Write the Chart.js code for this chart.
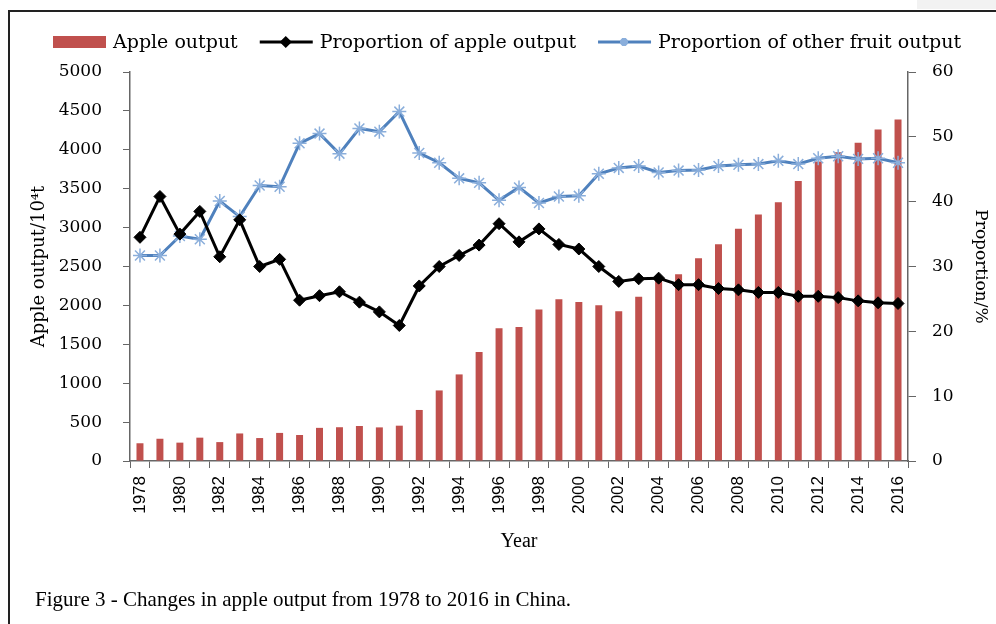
<!DOCTYPE html>
<html>
<head>
<meta charset="utf-8">
<script src="https://cdn.jsdelivr.net/npm/chart.js@4.4.0/dist/chart.umd.min.js"></script>
<style>
  body { margin: 0; background: #fff; }
  #wrap { position: relative; width: 996px; height: 624px; overflow: hidden; }
  #frame { position: absolute; left: 8px; top: 10px; width: 1100px; height: 700px;
           border-left: 2px solid #222; border-top: 2px solid #222; }
  #corner { position: absolute; left: 917px; top: 0; width: 79px; height: 9px; background: #f2f2f2; }
  #c { position: absolute; left: 0; top: 0; }
  #caption { position: absolute; left: 35px; top: 587px; font: 21px "Liberation Serif", serif; color: #000; }
</style>
</head>
<body>
<div id="wrap">
  <div id="corner"></div>
  <div id="frame"></div>
  <canvas id="c" width="996" height="624"></canvas>
  <div id="caption">Figure 3 - Changes in apple output from 1978 to 2016 in China.</div>
</div>
<script>
var years = ["1978","1979","1980","1981","1982","1983","1984","1985","1986","1987",
             "1988","1989","1990","1991","1992","1993","1994","1995","1996","1997",
             "1998","1999","2000","2001","2002","2003","2004","2005","2006","2007",
             "2008","2009","2010","2011","2012","2013","2014","2015","2016"];

// apple output, 10^4 t
var appleOutput = [228, 286, 236, 300, 243, 354, 295, 361, 334, 426,
                   434, 450, 432, 454, 656, 907, 1113, 1401, 1705, 1722,
                   1948, 2080, 2043, 2002, 1924, 2110, 2368, 2401, 2606, 2786,
                   2985, 3168, 3326, 3599, 3849, 3968, 4092, 4261, 4388];

// proportions, %
var appleShare = [34.5, 40.8, 35.0, 38.5, 31.5, 37.2, 30.0, 31.1, 24.8, 25.5,
                  26.1, 24.5, 23.0, 20.9, 27.0, 30.0, 31.7, 33.3, 36.6, 33.8,
                  35.8, 33.4, 32.7, 30.0, 27.7, 28.1, 28.2, 27.2, 27.2, 26.6,
                  26.4, 26.0, 26.0, 25.4, 25.4, 25.2, 24.7, 24.4, 24.3];

var otherShare = [31.7, 31.7, 34.7, 34.2, 40.1, 37.7, 42.5, 42.3, 49.0, 50.5,
                  47.4, 51.3, 50.8, 53.9, 47.5, 46.0, 43.6, 42.9, 40.2, 42.2,
                  39.8, 40.8, 40.9, 44.3, 45.2, 45.5, 44.5, 44.8, 44.9, 45.5,
                  45.7, 45.8, 46.3, 45.8, 46.7, 47.0, 46.6, 46.7, 46.0];

var seriesNames = ["Apple output", "Proportion of apple output", "Proportion of other fruit output"];

var RED = "#C0504D", BLUE = "#4F81BD", STAR = "#8AAEDB", AXIS = "#666";
var SERIF = '"DejaVu Serif", serif';

// legend drawn like the spreadsheet one: line + marker samples
var sheetLegend = {
  id: 'sheetLegend',
  afterDraw: function(chart) {
    var ctx = chart.ctx;
    var y = 42, x = 53;
    ctx.save();
    ctx.font = '19px ' + SERIF;
    ctx.textBaseline = 'middle';
    chart.data.datasets.forEach(function(ds) {
      if (ds.type === 'bar') {
        ctx.fillStyle = RED;
        ctx.fillRect(x, y - 6, 53, 12);
      } else {
        ctx.strokeStyle = ds.borderColor;
        ctx.lineWidth = 3;
        ctx.beginPath();
        ctx.moveTo(x, y);
        ctx.lineTo(x + 53, y);
        ctx.stroke();
        ctx.fillStyle = ds.pointBackgroundColor;
        ctx.strokeStyle = ds.pointBorderColor;
        Chart.helpers.drawPoint(ctx, {
          pointStyle: ds.pointStyle, radius: 4, borderWidth: 1.5, rotation: 0
        }, x + 26, y);
      }
      x += 53 + 7;
      ctx.fillStyle = '#000';
      ctx.fillText(ds.label, x, y + 1);
      x += ctx.measureText(ds.label).width + 22;
    });
    ctx.restore();
  }
};

Chart.defaults.font.family = SERIF;
Chart.defaults.color = '#000';

new Chart(document.getElementById('c'), {
  data: {
    labels: years,
    datasets: [
      {
        type: 'bar', label: seriesNames[0], data: appleOutput, yAxisID: 'y', order: 3,
        backgroundColor: RED, barPercentage: 0.35, categoryPercentage: 1
      },
      {
        type: 'line', label: seriesNames[1], data: appleShare, yAxisID: 'y1', order: 1,
        borderColor: '#000', borderWidth: 3, tension: 0,
        pointStyle: 'rectRot', pointRadius: 6, pointBackgroundColor: '#000', pointBorderColor: '#000',
        pointBorderWidth: 1
      },
      {
        type: 'line', label: seriesNames[2], data: otherShare, yAxisID: 'y1', order: 2,
        borderColor: BLUE, borderWidth: 3, tension: 0,
        pointStyle: 'star', pointRadius: 7, pointBackgroundColor: STAR, pointBorderColor: STAR,
        pointBorderWidth: 1.5
      }
    ]
  },
  options: {
    responsive: false,
    devicePixelRatio: 1,
    animation: false,
    layout: { padding: { top: 72, bottom: 68, left: 0, right: 0 } },
    plugins: { legend: { display: false }, tooltip: { enabled: false } },
    scales: {
      x: {
        type: 'category',
        offset: true,
        afterFit: function(s) { s.height = 95; },
        grid: { offset: true, drawOnChartArea: false, drawTicks: true, tickLength: 7, color: AXIS },
        border: { color: AXIS, width: 1.5 },
        ticks: {
          autoSkip: false, minRotation: 90, maxRotation: 90, padding: 8,
          font: { family: '"Liberation Sans", sans-serif', size: 17 },
          callback: function(v, i) { return i % 2 === 0 ? years[i] : ''; }
        },
        title: { display: true, text: 'Year', font: { family: '"Liberation Serif", serif', size: 20 },
                 padding: { top: 0, bottom: 2 } }
      },
      y: {
        position: 'left', min: 0, max: 5000,
        afterFit: function(s) { s.width = 130; },
        grid: { drawOnChartArea: false, tickLength: 7, color: AXIS },
        border: { color: AXIS, width: 1.5 },
        ticks: { stepSize: 500, padding: 21, font: { size: 17 },
                 callback: function(v) { return String(v); } },
        title: { display: true, text: 'Apple output/10\u2074t', font: { size: 18 },
                 padding: { top: 29, bottom: 0 } }
      },
      y1: {
        position: 'right', min: 0, max: 60,
        afterFit: function(s) { s.width = 88; },
        grid: { drawOnChartArea: false, tickLength: 8, color: AXIS },
        border: { color: AXIS, width: 1.5 },
        ticks: { stepSize: 10, padding: 16, font: { size: 17 } },
        title: { display: true, text: 'Proportion/%', font: { size: 17 },
                 padding: { top: 5, bottom: 0 } }
      }
    }
  },
  plugins: [sheetLegend]
});
</script>
</body>
</html>
